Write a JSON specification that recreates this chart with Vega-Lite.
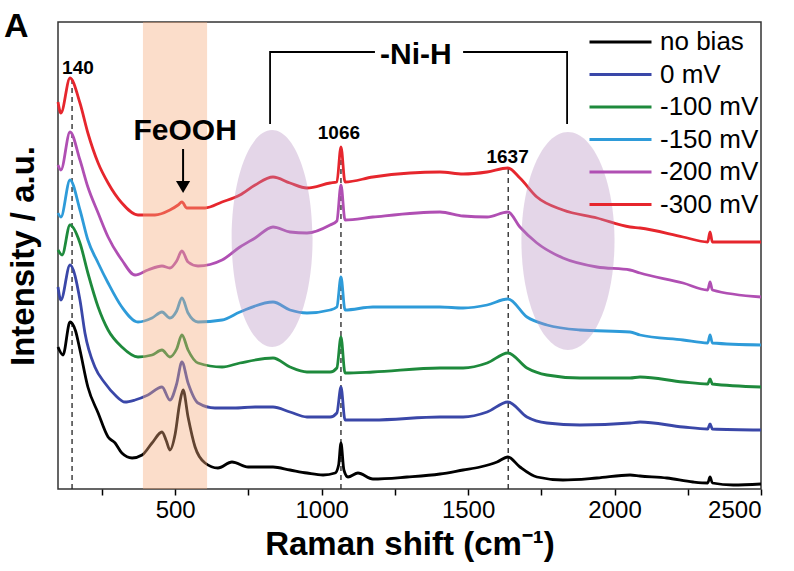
{
  "$schema": "https://vega.github.io/schema/vega-lite/v6.json",
  "width": 703,
  "height": 467,
  "autosize": {"type": "none"},
  "padding": {"left": 58, "top": 22, "right": 33, "bottom": 82},
  "background": "white",
  "title": {"text": "A", "anchor": "start", "frame": "group", "font": "Liberation Sans", "fontSize": 34, "fontWeight": "bold", "color": "black", "baseline": "alphabetic", "dx": -54, "offset": -49},
  "config": {
    "view": {"stroke": "#333", "strokeWidth": 1.5},
    "axis": {"grid": false, "domain": false, "labelFont": "Liberation Sans", "labelFontSize": 24, "labelColor": "black", "tickColor": "black", "tickWidth": 1.5, "tickSize": 6, "titleFont": "Liberation Sans", "titleFontSize": 33, "titleFontWeight": "bold", "titleColor": "black"},
    "legend": {"orient": "none", "legendX": 530, "legendY": 5, "symbolType": "stroke", "symbolSize": 3844, "symbolStrokeWidth": 3, "labelFont": "Liberation Sans", "labelFontSize": 26, "labelColor": "black", "clipHeight": 30, "rowPadding": 2.5, "labelOffset": 7, "padding": 0, "labelLimit": 300}
  },
  "datasets": {
    "spectra": [
      {"s":"no bias","x":100,"y":142},{"s":"no bias","x":117,"y":134},{"s":"no bias","x":141,"y":167},{"s":"no bias","x":160,"y":158},{"s":"no bias","x":175,"y":139},{"s":"no bias","x":202,"y":102},{"s":"no bias","x":237,"y":76},{"s":"no bias","x":271,"y":52},{"s":"no bias","x":295,"y":46},{"s":"no bias","x":318,"y":36},{"s":"no bias","x":353,"y":31},{"s":"no bias","x":387,"y":34},{"s":"no bias","x":421,"y":46},{"s":"no bias","x":455,"y":57},{"s":"no bias","x":470,"y":48},{"s":"no bias","x":482,"y":39},{"s":"no bias","x":500,"y":55},{"s":"no bias","x":515,"y":85},{"s":"no bias","x":527,"y":99},{"s":"no bias","x":544,"y":72},{"s":"no bias","x":568,"y":42},{"s":"no bias","x":602,"y":26},{"s":"no bias","x":646,"y":21},{"s":"no bias","x":694,"y":27},{"s":"no bias","x":749,"y":22},{"s":"no bias","x":834,"y":22},{"s":"no bias","x":892,"y":19},{"s":"no bias","x":950,"y":16},{"s":"no bias","x":1005,"y":14},{"s":"no bias","x":1046,"y":16},{"s":"no bias","x":1058,"y":24},{"s":"no bias","x":1066,"y":46},{"s":"no bias","x":1076,"y":19},{"s":"no bias","x":1090,"y":12},{"s":"no bias","x":1124,"y":16},{"s":"no bias","x":1175,"y":10},{"s":"no bias","x":1292,"y":12},{"s":"no bias","x":1404,"y":15},{"s":"no bias","x":1483,"y":19},{"s":"no bias","x":1541,"y":22},{"s":"no bias","x":1599,"y":27},{"s":"no bias","x":1636,"y":32},{"s":"no bias","x":1677,"y":22},{"s":"no bias","x":1735,"y":12},{"s":"no bias","x":1824,"y":9},{"s":"no bias","x":1940,"y":11},{"s":"no bias","x":2053,"y":14},{"s":"no bias","x":2087,"y":13},{"s":"no bias","x":2179,"y":11},{"s":"no bias","x":2268,"y":7},{"s":"no bias","x":2318,"y":6},{"s":"no bias","x":2326,"y":12},{"s":"no bias","x":2334,"y":6},{"s":"no bias","x":2405,"y":4},{"s":"no bias","x":2500,"y":5},

      {"s":"0 mV","x":100,"y":202},{"s":"0 mV","x":110,"y":189},{"s":"0 mV","x":141,"y":224},{"s":"0 mV","x":175,"y":189},{"s":"0 mV","x":192,"y":156},{"s":"0 mV","x":226,"y":122},{"s":"0 mV","x":260,"y":106},{"s":"0 mV","x":295,"y":94},{"s":"0 mV","x":329,"y":87},{"s":"0 mV","x":363,"y":89},{"s":"0 mV","x":407,"y":94},{"s":"0 mV","x":455,"y":102},{"s":"0 mV","x":482,"y":89},{"s":"0 mV","x":505,"y":105},{"s":"0 mV","x":523,"y":127},{"s":"0 mV","x":544,"y":106},{"s":"0 mV","x":578,"y":86},{"s":"0 mV","x":636,"y":81},{"s":"0 mV","x":700,"y":81},{"s":"0 mV","x":773,"y":82},{"s":"0 mV","x":834,"y":82},{"s":"0 mV","x":892,"y":77},{"s":"0 mV","x":950,"y":72},{"s":"0 mV","x":1029,"y":72},{"s":"0 mV","x":1052,"y":76},{"s":"0 mV","x":1066,"y":102},{"s":"0 mV","x":1080,"y":69},{"s":"0 mV","x":1175,"y":69},{"s":"0 mV","x":1404,"y":72},{"s":"0 mV","x":1483,"y":72},{"s":"0 mV","x":1565,"y":77},{"s":"0 mV","x":1636,"y":87},{"s":"0 mV","x":1701,"y":72},{"s":"0 mV","x":1769,"y":66},{"s":"0 mV","x":1882,"y":64},{"s":"0 mV","x":2053,"y":66},{"s":"0 mV","x":2087,"y":67},{"s":"0 mV","x":2234,"y":62},{"s":"0 mV","x":2318,"y":60},{"s":"0 mV","x":2326,"y":65},{"s":"0 mV","x":2334,"y":60},{"s":"0 mV","x":2500,"y":59},

      {"s":"-100 mV","x":100,"y":239},{"s":"-100 mV","x":114,"y":234},{"s":"-100 mV","x":141,"y":264},{"s":"-100 mV","x":175,"y":246},{"s":"-100 mV","x":202,"y":216},{"s":"-100 mV","x":237,"y":182},{"s":"-100 mV","x":271,"y":159},{"s":"-100 mV","x":318,"y":142},{"s":"-100 mV","x":373,"y":132},{"s":"-100 mV","x":421,"y":134},{"s":"-100 mV","x":455,"y":139},{"s":"-100 mV","x":482,"y":132},{"s":"-100 mV","x":505,"y":140},{"s":"-100 mV","x":523,"y":154},{"s":"-100 mV","x":544,"y":139},{"s":"-100 mV","x":578,"y":126},{"s":"-100 mV","x":660,"y":122},{"s":"-100 mV","x":721,"y":126},{"s":"-100 mV","x":834,"y":131},{"s":"-100 mV","x":892,"y":122},{"s":"-100 mV","x":950,"y":117},{"s":"-100 mV","x":1029,"y":117},{"s":"-100 mV","x":1052,"y":121},{"s":"-100 mV","x":1066,"y":152},{"s":"-100 mV","x":1080,"y":116},{"s":"-100 mV","x":1175,"y":117},{"s":"-100 mV","x":1404,"y":121},{"s":"-100 mV","x":1483,"y":121},{"s":"-100 mV","x":1565,"y":126},{"s":"-100 mV","x":1636,"y":136},{"s":"-100 mV","x":1701,"y":121},{"s":"-100 mV","x":1769,"y":114},{"s":"-100 mV","x":1882,"y":111},{"s":"-100 mV","x":2053,"y":111},{"s":"-100 mV","x":2087,"y":112},{"s":"-100 mV","x":2234,"y":107},{"s":"-100 mV","x":2318,"y":105},{"s":"-100 mV","x":2326,"y":110},{"s":"-100 mV","x":2334,"y":105},{"s":"-100 mV","x":2500,"y":102},

      {"s":"-150 mV","x":100,"y":276},{"s":"-150 mV","x":110,"y":272},{"s":"-150 mV","x":141,"y":309},{"s":"-150 mV","x":175,"y":279},{"s":"-150 mV","x":202,"y":249},{"s":"-150 mV","x":237,"y":226},{"s":"-150 mV","x":271,"y":206},{"s":"-150 mV","x":318,"y":182},{"s":"-150 mV","x":373,"y":167},{"s":"-150 mV","x":421,"y":171},{"s":"-150 mV","x":455,"y":177},{"s":"-150 mV","x":482,"y":171},{"s":"-150 mV","x":505,"y":178},{"s":"-150 mV","x":523,"y":191},{"s":"-150 mV","x":544,"y":176},{"s":"-150 mV","x":578,"y":167},{"s":"-150 mV","x":660,"y":169},{"s":"-150 mV","x":721,"y":177},{"s":"-150 mV","x":834,"y":187},{"s":"-150 mV","x":892,"y":179},{"s":"-150 mV","x":950,"y":176},{"s":"-150 mV","x":1029,"y":179},{"s":"-150 mV","x":1052,"y":182},{"s":"-150 mV","x":1066,"y":212},{"s":"-150 mV","x":1080,"y":179},{"s":"-150 mV","x":1175,"y":182},{"s":"-150 mV","x":1404,"y":182},{"s":"-150 mV","x":1483,"y":181},{"s":"-150 mV","x":1565,"y":184},{"s":"-150 mV","x":1636,"y":190},{"s":"-150 mV","x":1701,"y":172},{"s":"-150 mV","x":1769,"y":164},{"s":"-150 mV","x":1882,"y":159},{"s":"-150 mV","x":2053,"y":157},{"s":"-150 mV","x":2087,"y":154},{"s":"-150 mV","x":2234,"y":149},{"s":"-150 mV","x":2318,"y":146},{"s":"-150 mV","x":2326,"y":154},{"s":"-150 mV","x":2334,"y":146},{"s":"-150 mV","x":2500,"y":144},

      {"s":"-200 mV","x":100,"y":324},{"s":"-200 mV","x":110,"y":319},{"s":"-200 mV","x":141,"y":357},{"s":"-200 mV","x":175,"y":329},{"s":"-200 mV","x":202,"y":302},{"s":"-200 mV","x":237,"y":276},{"s":"-200 mV","x":271,"y":252},{"s":"-200 mV","x":318,"y":229},{"s":"-200 mV","x":363,"y":214},{"s":"-200 mV","x":407,"y":219},{"s":"-200 mV","x":455,"y":223},{"s":"-200 mV","x":482,"y":221},{"s":"-200 mV","x":505,"y":228},{"s":"-200 mV","x":523,"y":238},{"s":"-200 mV","x":544,"y":227},{"s":"-200 mV","x":578,"y":223},{"s":"-200 mV","x":660,"y":229},{"s":"-200 mV","x":721,"y":242},{"s":"-200 mV","x":773,"y":251},{"s":"-200 mV","x":834,"y":262},{"s":"-200 mV","x":892,"y":257},{"s":"-200 mV","x":950,"y":256},{"s":"-200 mV","x":1029,"y":264},{"s":"-200 mV","x":1052,"y":268},{"s":"-200 mV","x":1066,"y":304},{"s":"-200 mV","x":1080,"y":269},{"s":"-200 mV","x":1175,"y":272},{"s":"-200 mV","x":1404,"y":277},{"s":"-200 mV","x":1483,"y":273},{"s":"-200 mV","x":1565,"y":272},{"s":"-200 mV","x":1636,"y":277},{"s":"-200 mV","x":1677,"y":262},{"s":"-200 mV","x":1735,"y":246},{"s":"-200 mV","x":1824,"y":231},{"s":"-200 mV","x":1940,"y":222},{"s":"-200 mV","x":2053,"y":219},{"s":"-200 mV","x":2087,"y":216},{"s":"-200 mV","x":2234,"y":206},{"s":"-200 mV","x":2318,"y":199},{"s":"-200 mV","x":2326,"y":207},{"s":"-200 mV","x":2334,"y":199},{"s":"-200 mV","x":2500,"y":192},

      {"s":"-300 mV","x":100,"y":387},{"s":"-300 mV","x":110,"y":376},{"s":"-300 mV","x":141,"y":411},{"s":"-300 mV","x":175,"y":386},{"s":"-300 mV","x":202,"y":356},{"s":"-300 mV","x":237,"y":326},{"s":"-300 mV","x":271,"y":306},{"s":"-300 mV","x":318,"y":286},{"s":"-300 mV","x":373,"y":274},{"s":"-300 mV","x":431,"y":274},{"s":"-300 mV","x":482,"y":279},{"s":"-300 mV","x":510,"y":284},{"s":"-300 mV","x":523,"y":287},{"s":"-300 mV","x":540,"y":281},{"s":"-300 mV","x":602,"y":281},{"s":"-300 mV","x":660,"y":287},{"s":"-300 mV","x":721,"y":294},{"s":"-300 mV","x":773,"y":304},{"s":"-300 mV","x":834,"y":312},{"s":"-300 mV","x":892,"y":306},{"s":"-300 mV","x":950,"y":301},{"s":"-300 mV","x":1029,"y":306},{"s":"-300 mV","x":1052,"y":307},{"s":"-300 mV","x":1066,"y":342},{"s":"-300 mV","x":1080,"y":307},{"s":"-300 mV","x":1175,"y":312},{"s":"-300 mV","x":1302,"y":316},{"s":"-300 mV","x":1404,"y":317},{"s":"-300 mV","x":1483,"y":315},{"s":"-300 mV","x":1565,"y":317},{"s":"-300 mV","x":1636,"y":321},{"s":"-300 mV","x":1677,"y":311},{"s":"-300 mV","x":1735,"y":292},{"s":"-300 mV","x":1824,"y":279},{"s":"-300 mV","x":1940,"y":271},{"s":"-300 mV","x":2053,"y":262},{"s":"-300 mV","x":2087,"y":261},{"s":"-300 mV","x":2234,"y":252},{"s":"-300 mV","x":2318,"y":247},{"s":"-300 mV","x":2326,"y":257},{"s":"-300 mV","x":2334,"y":247},{"s":"-300 mV","x":2500,"y":247}
    ],
    "peaks": [{"x":148,"y":0,"y2":409},{"x":1066,"y":0,"y2":339},{"x":1637,"y":0,"y2":321}],
    "bracket": [{"g":"a","o":1,"x":824,"y":365},{"g":"a","o":2,"x":824,"y":437},{"g":"a","o":3,"x":1182,"y":437},{"g":"b","o":1,"x":1483,"y":437},{"g":"b","o":2,"x":1838,"y":437},{"g":"b","o":3,"x":1838,"y":365}]
  },
  "layer": [
    {
      "data": {"name": "peaks"},
      "mark": {"type": "rule", "color": "#222", "strokeWidth": 1.3, "strokeDash": [5, 4]},
      "encoding": {
        "x": {"field": "x", "type": "quantitative"},
        "y": {"field": "y", "type": "quantitative"},
        "y2": {"field": "y2"}
      }
    },
    {
      "data": {"name": "spectra"},
      "mark": {"type": "line", "strokeWidth": 2.8, "interpolate": "monotone"},
      "encoding": {
        "x": {"field": "x", "type": "quantitative", "scale": {"domain": [100, 2500], "nice": false, "zero": false}, "axis": {"title": "Raman shift (cm⁻¹)", "format": "d", "values": [250, 500, 750, 1000, 1250, 1500, 1750, 2000, 2250, 2500], "labelExpr": "datum.value % 500 === 0 ? datum.label : ''", "labelPadding": 3, "titlePadding": 6}},
        "y": {"field": "y", "type": "quantitative", "scale": {"domain": [0, 467], "nice": false, "zero": false}, "axis": {"title": "Intensity / a.u.", "labels": false, "ticks": false, "titlePadding": 18}},
        "color": {"field": "s", "type": "nominal", "sort": null, "scale": {"domain": ["no bias", "0 mV", "-100 mV", "-150 mV", "-200 mV", "-300 mV"], "range": ["#000000", "#3a47a8", "#1e8a3c", "#2e9bd9", "#b04fb3", "#e6262d"]}, "legend": {"title": null}},
        "order": {"field": "x", "type": "quantitative"}
      }
    },
    {
      "data": {"values": [{"a": 390, "b": 609}]},
      "mark": {"type": "rect", "color": "#f4a97a", "opacity": 0.4},
      "encoding": {
        "x": {"field": "a", "type": "quantitative"},
        "x2": {"field": "b"}
      }
    },
    {
      "data": {"values": [{"x": 831, "y": 250.5}]},
      "mark": {"type": "point", "filled": true, "color": "#b58cc0", "opacity": 0.36, "strokeWidth": 0, "size": 47089, "shape": "M-0.373,0A0.373,1,0,1,0,0.373,0A0.373,1,0,1,0,-0.373,0Z"},
      "encoding": {
        "x": {"field": "x", "type": "quantitative"},
        "y": {"field": "y", "type": "quantitative"}
      }
    },
    {
      "data": {"values": [{"x": 1841, "y": 248}]},
      "mark": {"type": "point", "filled": true, "color": "#b58cc0", "opacity": 0.36, "strokeWidth": 0, "size": 47524, "shape": "M-0.427,0A0.427,1,0,1,0,0.427,0A0.427,1,0,1,0,-0.427,0Z"},
      "encoding": {
        "x": {"field": "x", "type": "quantitative"},
        "y": {"field": "y", "type": "quantitative"}
      }
    },
    {
      "data": {"name": "bracket"},
      "mark": {"type": "line", "color": "black", "strokeWidth": 1.8},
      "encoding": {
        "x": {"field": "x", "type": "quantitative"},
        "y": {"field": "y", "type": "quantitative"},
        "detail": {"field": "g"},
        "order": {"field": "o"}
      }
    },
    {
      "data": {"values": [{"x": 527, "y": 340, "y2": 306}]},
      "mark": {"type": "rule", "color": "black", "strokeWidth": 2},
      "encoding": {
        "x": {"field": "x", "type": "quantitative"},
        "y": {"field": "y", "type": "quantitative"},
        "y2": {"field": "y2"}
      }
    },
    {
      "data": {"values": [{"x": 527, "y": 302}]},
      "mark": {"type": "point", "shape": "triangle-down", "filled": true, "color": "black", "opacity": 1, "size": 200},
      "encoding": {
        "x": {"field": "x", "type": "quantitative"},
        "y": {"field": "y", "type": "quantitative"}
      }
    },
    {
      "data": {"values": [{"t": "140", "x": 168, "y": 421}, {"t": "1066", "x": 1059, "y": 356}, {"t": "1637", "x": 1635, "y": 332}]},
      "mark": {"type": "text", "font": "Liberation Sans", "fontSize": 19, "fontWeight": "bold", "color": "black", "baseline": "middle", "align": "center"},
      "encoding": {
        "x": {"field": "x", "type": "quantitative"},
        "y": {"field": "y", "type": "quantitative"},
        "text": {"field": "t"}
      }
    },
    {
      "data": {"values": [{"t": "FeOOH", "x": 534, "y": 358}, {"t": "-Ni-H", "x": 1322, "y": 434}]},
      "mark": {"type": "text", "font": "Liberation Sans", "fontSize": 30, "fontWeight": "bold", "color": "black", "baseline": "middle", "align": "center"},
      "encoding": {
        "x": {"field": "x", "type": "quantitative"},
        "y": {"field": "y", "type": "quantitative"},
        "text": {"field": "t"}
      }
    }
  ]
}
